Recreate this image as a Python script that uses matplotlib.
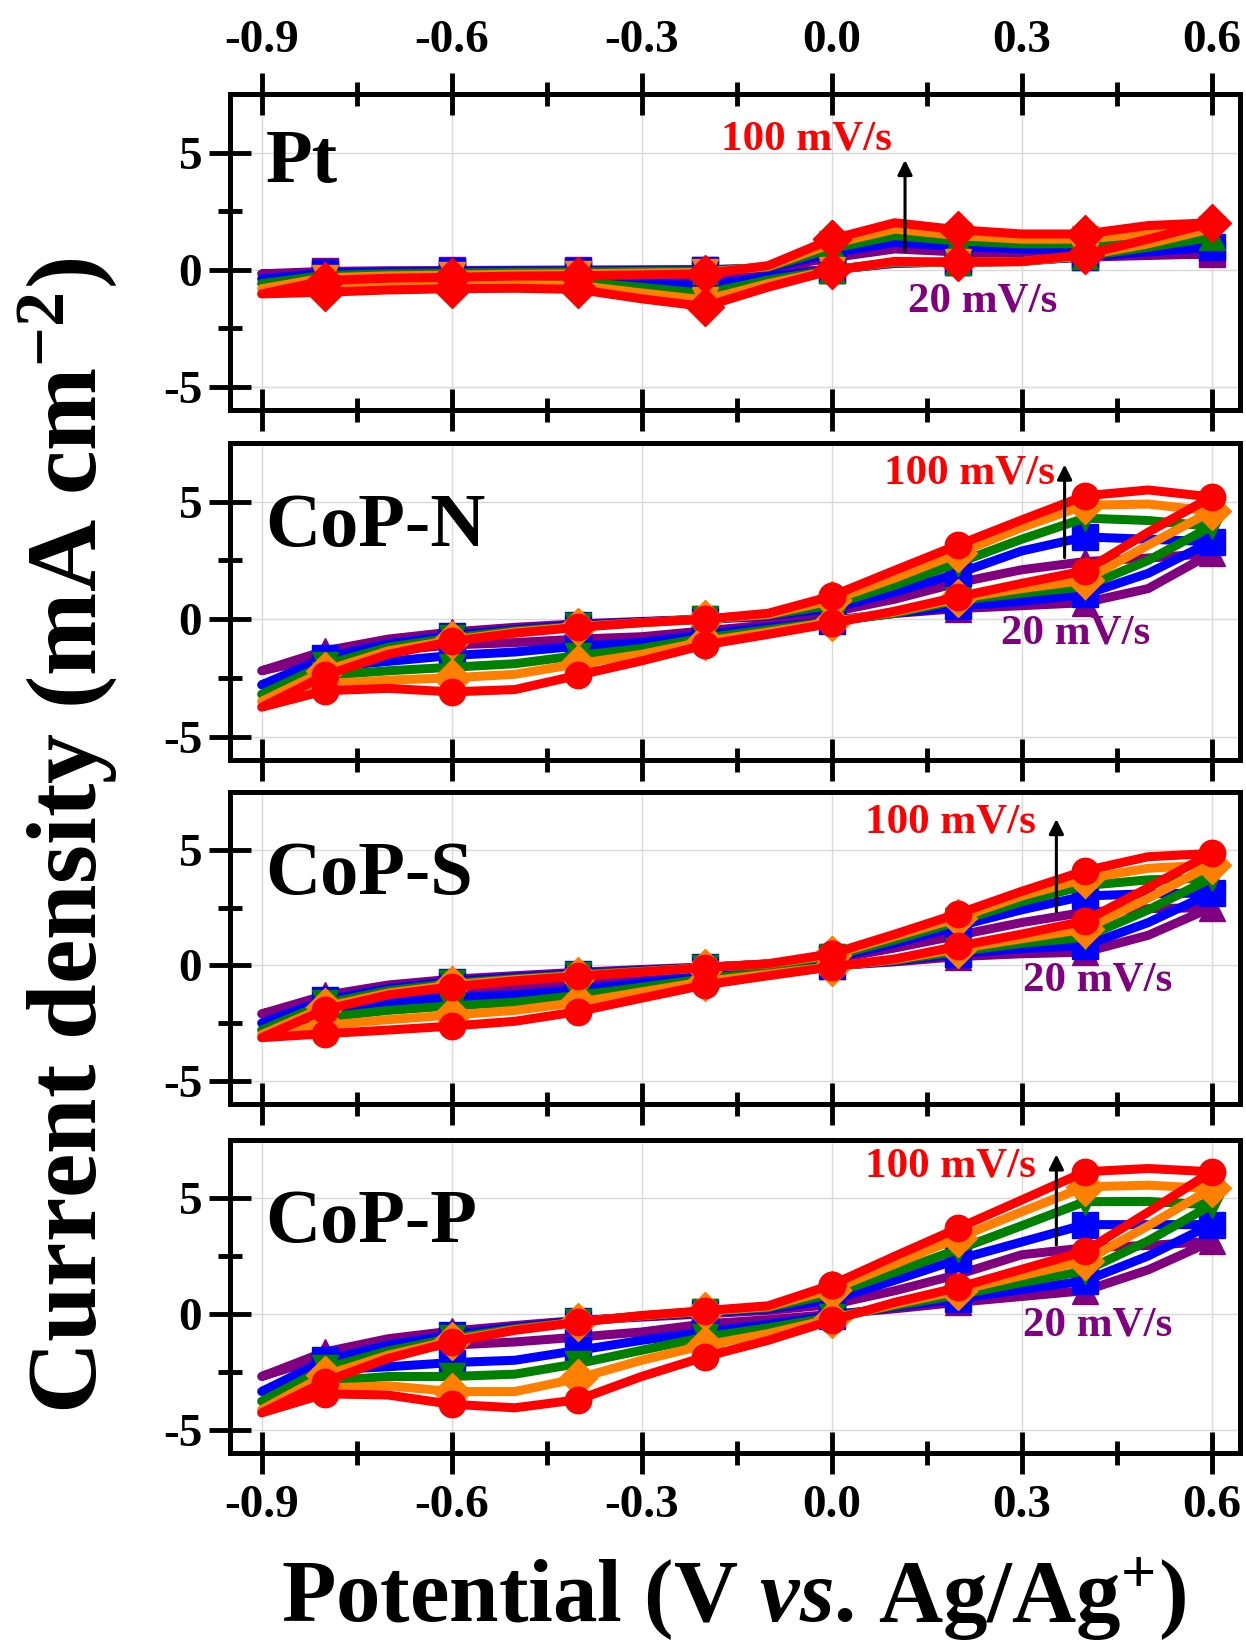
import matplotlib
matplotlib.use('Agg')
import matplotlib.pyplot as plt
from matplotlib.ticker import FormatStrFormatter

plt.rcParams['font.family'] = 'Liberation Serif'
plt.rcParams['font.weight'] = 'bold'
plt.rcParams['axes.unicode_minus'] = False
plt.rcParams['mathtext.fontset'] = 'custom'
plt.rcParams['mathtext.rm'] = 'Liberation Serif:bold'
plt.rcParams['mathtext.it'] = 'Liberation Serif:italic:bold'
plt.rcParams['mathtext.bf'] = 'Liberation Serif:bold'

# potential grid (V vs Ag/Ag+), ascending
pot = [-0.9, -0.8, -0.7, -0.6, -0.5, -0.4, -0.3, -0.2, -0.1, 0.0, 0.1, 0.2, 0.3, 0.4, 0.5, 0.6]
rates = ['20', '40', '60', '80', '100']
colors = ['#800080', '#0000ff', '#008000', '#ff8000', '#ff0000']
panels = ['Pt', 'CoP-N', 'CoP-S', 'CoP-P']

# forward (anodic) and reverse (cathodic) branches, values at pot, one row per scan rate
pt_fwd = [
    [-0.18, -0.08, -0.05, -0.04, -0.03, -0.02, -0.01, 0.0, 0.05, 0.5, 0.88, 0.75, 0.67, 0.67, 0.67, 0.67],
    [-0.4, -0.15, -0.1, -0.08, -0.06, -0.05, -0.04, -0.02, 0.07, 0.7, 1.16, 0.98, 0.88, 0.88, 0.92, 0.95],
    [-0.6, -0.25, -0.18, -0.15, -0.12, -0.1, -0.08, -0.06, 0.1, 0.9, 1.45, 1.22, 1.1, 1.1, 1.25, 1.38],
    [-0.82, -0.35, -0.27, -0.24, -0.2, -0.18, -0.15, -0.12, 0.13, 1.1, 1.73, 1.45, 1.3, 1.3, 1.55, 1.75],
    [-1.04, -0.47, -0.37, -0.33, -0.28, -0.26, -0.23, -0.18, 0.17, 1.3, 2.0, 1.7, 1.52, 1.52, 1.88, 2.0],
]
pt_rev = [
    [-0.18, -0.22, -0.2, -0.2, -0.2, -0.22, -0.3, -0.42, -0.15, 0.0, 0.26, 0.33, 0.38, 0.53, 0.6, 0.67],
    [-0.4, -0.4, -0.37, -0.35, -0.34, -0.37, -0.52, -0.7, -0.3, -0.01, 0.28, 0.32, 0.36, 0.55, 0.75, 0.95],
    [-0.6, -0.58, -0.53, -0.5, -0.48, -0.52, -0.76, -1.02, -0.45, -0.02, 0.3, 0.31, 0.35, 0.57, 0.95, 1.38],
    [-0.82, -0.78, -0.7, -0.66, -0.64, -0.68, -1.0, -1.3, -0.6, -0.03, 0.33, 0.31, 0.34, 0.6, 1.1, 1.75],
    [-1.04, -0.97, -0.87, -0.82, -0.8, -0.85, -1.25, -1.58, -0.75, -0.04, 0.35, 0.31, 0.34, 0.64, 1.3, 2.0],
]

copn_fwd = [
    [-2.2, -1.35, -0.85, -0.55, -0.35, -0.2, -0.1, 0.0, 0.1, 0.3, 0.85, 1.55, 2.1, 2.45, 2.6, 2.8],
    [-2.8, -1.65, -1.05, -0.7, -0.45, -0.25, -0.12, 0.0, 0.15, 0.45, 1.15, 1.95, 2.9, 3.5, 3.4, 3.3],
    [-3.2, -1.95, -1.2, -0.8, -0.5, -0.3, -0.15, 0.0, 0.18, 0.6, 1.45, 2.4, 3.4, 4.3, 4.2, 3.95],
    [-3.5, -2.2, -1.35, -0.9, -0.55, -0.32, -0.15, 0.0, 0.2, 0.8, 1.75, 2.8, 3.9, 4.85, 4.9, 4.6],
    [-3.75, -2.4, -1.5, -0.95, -0.6, -0.35, -0.15, 0.0, 0.25, 0.98, 2.08, 3.16, 4.22, 5.25, 5.5, 5.2],
]
copn_rev = [
    [-2.2, -1.6, -1.35, -1.1, -1.0, -0.85, -0.75, -0.5, -0.25, -0.04, 0.24, 0.45, 0.57, 0.7, 1.3, 2.8],
    [-2.8, -2.05, -1.8, -1.55, -1.4, -1.15, -1.0, -0.65, -0.35, -0.1, 0.25, 0.55, 0.75, 1.05, 1.95, 3.3],
    [-3.2, -2.4, -2.2, -2.05, -1.9, -1.55, -1.25, -0.8, -0.45, -0.1, 0.25, 0.8, 1.1, 1.38, 2.5, 3.95],
    [-3.5, -2.75, -2.6, -2.5, -2.35, -1.9, -1.5, -0.95, -0.55, -0.12, 0.3, 0.88, 1.3, 1.66, 3.15, 4.6],
    [-3.75, -3.05, -2.95, -3.1, -3.0, -2.39, -1.78, -1.1, -0.65, -0.18, 0.34, 0.95, 1.52, 2.06, 3.7, 5.2],
]

cops_fwd = [
    [-2.1, -1.3, -0.85, -0.6, -0.45, -0.3, -0.18, -0.07, 0.05, 0.25, 0.75, 1.3, 1.85, 2.3, 2.45, 2.5],
    [-2.5, -1.5, -1.0, -0.7, -0.52, -0.36, -0.22, -0.09, 0.05, 0.3, 0.95, 1.7, 2.4, 3.0, 3.1, 3.13],
    [-2.8, -1.65, -1.1, -0.78, -0.58, -0.4, -0.25, -0.1, 0.06, 0.38, 1.1, 1.9, 2.75, 3.45, 3.7, 3.77],
    [-3.0, -1.8, -1.2, -0.85, -0.62, -0.44, -0.27, -0.1, 0.06, 0.45, 1.25, 2.05, 3.0, 3.75, 4.2, 4.35],
    [-3.13, -1.92, -1.28, -0.93, -0.67, -0.47, -0.28, -0.1, 0.07, 0.5, 1.35, 2.24, 3.2, 4.09, 4.7, 4.84],
]
cops_rev = [
    [-2.1, -1.55, -1.25, -1.1, -0.95, -0.75, -0.5, -0.3, -0.12, -0.02, 0.15, 0.38, 0.5, 0.57, 1.3, 2.5],
    [-2.5, -1.9, -1.6, -1.4, -1.28, -1.05, -0.75, -0.45, -0.22, -0.04, 0.2, 0.5, 0.72, 0.85, 1.85, 3.13],
    [-2.8, -2.25, -1.95, -1.75, -1.6, -1.3, -0.95, -0.58, -0.3, -0.05, 0.22, 0.6, 0.95, 1.21, 2.4, 3.77],
    [-3.0, -2.6, -2.35, -2.15, -1.95, -1.6, -1.15, -0.7, -0.38, -0.06, 0.25, 0.72, 1.15, 1.57, 2.9, 4.35],
    [-3.13, -2.96, -2.8, -2.63, -2.42, -2.0, -1.42, -0.85, -0.45, -0.07, 0.28, 0.83, 1.35, 1.92, 3.36, 4.84],
]

copp_fwd = [
    [-2.7, -1.64, -1.07, -0.74, -0.5, -0.28, -0.14, 0.0, 0.15, 0.4, 1.0, 1.7, 2.55, 2.85, 2.95, 3.13],
    [-3.35, -2.0, -1.35, -0.9, -0.58, -0.32, -0.1, 0.06, 0.22, 0.6, 1.45, 2.35, 3.1, 3.85, 3.85, 3.85],
    [-3.77, -2.35, -1.6, -1.05, -0.64, -0.34, -0.09, 0.1, 0.27, 0.85, 1.8, 2.78, 3.8, 4.84, 4.85, 4.7],
    [-4.13, -2.65, -1.78, -1.15, -0.68, -0.35, -0.08, 0.12, 0.31, 1.05, 2.15, 3.28, 4.4, 5.48, 5.55, 5.41],
    [-4.27, -2.92, -1.92, -1.21, -0.71, -0.36, -0.07, 0.14, 0.35, 1.25, 2.49, 3.7, 4.91, 6.13, 6.27, 6.13],
]
copp_rev = [
    [-2.7, -1.85, -1.5, -1.35, -1.21, -1.0, -0.78, -0.43, -0.25, -0.02, 0.22, 0.5, 0.75, 1.0, 1.9, 3.13],
    [-3.35, -2.42, -2.28, -2.1, -2.0, -1.57, -1.14, -0.78, -0.45, -0.08, 0.3, 0.65, 1.05, 1.42, 2.5, 3.85],
    [-3.77, -2.9, -2.7, -2.7, -2.6, -2.14, -1.57, -1.0, -0.6, -0.15, 0.35, 0.82, 1.35, 1.85, 3.15, 4.7],
    [-4.13, -3.2, -3.1, -3.35, -3.35, -2.78, -2.0, -1.35, -0.85, -0.22, 0.42, 1.0, 1.65, 2.28, 3.8, 5.41],
    [-4.27, -3.45, -3.5, -3.9, -4.05, -3.7, -2.7, -1.85, -1.14, -0.28, 0.5, 1.14, 1.92, 2.7, 4.39, 6.13],
]

all_fwd = [pt_fwd, copn_fwd, cops_fwd, copp_fwd]
all_rev = [pt_rev, copn_rev, cops_rev, copp_rev]

pt_markers = ['s', 's', '^', 'v', 'D']
cop_markers = ['^', 's', 'v', 'D', 'o']

# annotation positions (data coords): label 100, label 20, arrow x, arrow y0, y1
hi_pos = [(-0.04, 5.55), (0.217, 6.2), (0.188, 6.2), (0.188, 6.35)]
lo_pos = [(0.238, -1.35), (0.386, -0.62), (0.42, -0.64), (0.42, -0.5)]
arrows = [(0.116, 0.67, 4.8), (0.368, 2.5, 6.7), (0.355, 2.2, 6.45), (0.355, 2.85, 7.0)]

boxes = [(94, 410), (443, 760), (792, 1104), (1140, 1453)]
W, H = 1246, 1645

fig = plt.figure(figsize=(12.46, 16.45), dpi=100)

for i in range(4):
    top, bot = boxes[i]
    ax = fig.add_axes([230 / W, 1 - bot / H, 1010 / W, (bot - top) / H])
    mk = pt_markers if i == 0 else cop_markers
    for j in range(5):
        fw = all_fwd[i][j]
        rv = all_rev[i][j]
        # scan starts at 0.0 V -> 0.6 V -> -0.9 V -> 0.0 V
        px = pot[9:] + pot[::-1][1:] + pot[1:10]
        py = fw[9:] + rv[::-1][1:] + fw[1:10]
        ax.plot(px, py, color=colors[j], lw=6.5, marker=mk[j], ms=19,
                mec=colors[j], mfc=colors[j], markevery=2, zorder=2 + j,
                solid_joinstyle='round')

    ax.set_xlim(-0.95, 0.645)
    ax.set_ylim(-6, 7.5)
    ax.set_xticks([-0.9, -0.6, -0.3, 0.0, 0.3, 0.6])
    ax.set_xticks([-0.75, -0.45, -0.15, 0.15, 0.45], minor=True)
    ax.set_yticks([-5, 0, 5])
    ax.set_yticks([-2.5, 2.5], minor=True)
    ax.xaxis.set_major_formatter(FormatStrFormatter('%.1f'))
    ax.grid(True, which='major', color='#d9d9d9', lw=1.0)
    ax.set_axisbelow(True)
    for s in ax.spines.values():
        s.set_linewidth(3.6)
    ax.tick_params(which='major', direction='inout', length=30, width=3.5, labelsize=34)
    ax.tick_params(which='minor', direction='inout', length=17, width=3.5)
    ax.tick_params(axis='y', which='major', pad=5)
    ax.tick_params(axis='x', which='major', pad=8)
    ax.tick_params(axis='x', which='both', bottom=True, top=(i == 0),
                   labelbottom=(i == 3), labeltop=(i == 0))
    ax.tick_params(axis='y', which='both', left=True, right=False)

    ax.text(0.035, 0.72 if i == 0 else 0.674, panels[i], transform=ax.transAxes,
            fontsize=55, fontweight='bold', ha='left', va='baseline')
    ax.text(hi_pos[i][0], hi_pos[i][1], '100 mV/s', color='#ff0000', fontsize=31,
            fontweight='bold', ha='center', va='center', zorder=10)
    ax.text(lo_pos[i][0], lo_pos[i][1], '20 mV/s', color='#800080', fontsize=31,
            fontweight='bold', ha='center', va='center', zorder=10)
    ax_x, ay0, ay1 = arrows[i]
    ax.annotate('', xy=(ax_x, ay1), xytext=(ax_x, ay0),
                arrowprops=dict(arrowstyle='-|>', color='k', lw=2.2, mutation_scale=22),
                zorder=11)

fig.text(0.055, 0.492, 'Current density (mA cm$^{-2}$)', rotation=90,
         fontsize=72, fontweight='bold', ha='center', va='center')
fig.text(0.589, 0.001, r'Potential (V $\mathit{vs}$. Ag/Ag$^{+}$)',
         fontsize=64, fontweight='bold', ha='center', va='bottom')

fig.savefig('out.png', dpi=100)
